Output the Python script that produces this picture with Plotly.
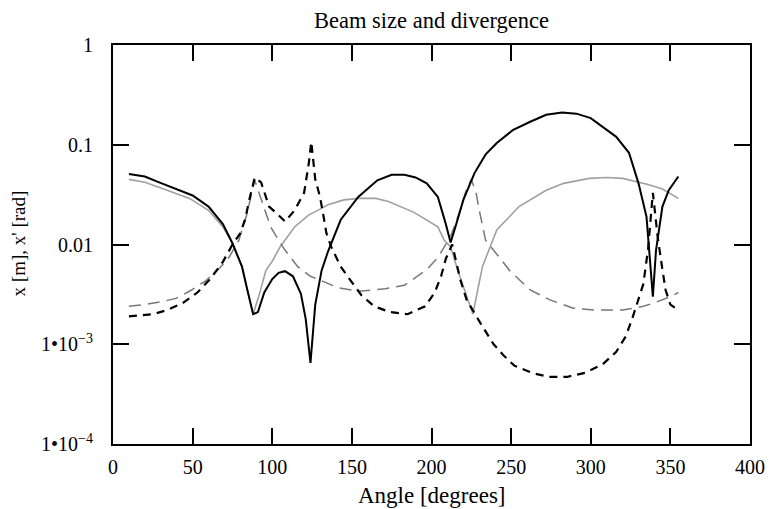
import plotly.graph_objects as go

# Solid black: beam size (x)
sx_ang = [10, 20, 29, 40, 50, 60, 69, 75, 81, 84, 88, 91, 95, 100, 104, 108, 113, 118, 121, 124,
          127, 131, 135, 143, 154, 166, 175, 183, 190, 197, 204, 209, 212, 215, 220, 227, 234, 241,
          251, 262, 272, 282, 291, 300, 308, 316, 324, 330, 335, 337, 339, 341, 345, 349, 355]
sx_val = [0.051, 0.048, 0.042, 0.036, 0.031, 0.024, 0.016, 0.0103, 0.006, 0.0037, 0.002, 0.0021,
          0.0033, 0.0045, 0.0052, 0.0054, 0.0048, 0.0032, 0.0018, 0.00065, 0.0025, 0.0055, 0.0085,
          0.0177, 0.030, 0.044, 0.050, 0.050, 0.047, 0.041, 0.030, 0.016, 0.0105, 0.015, 0.028,
          0.052, 0.080, 0.104, 0.140, 0.170, 0.200, 0.210, 0.205, 0.185, 0.150, 0.120, 0.083,
          0.041, 0.019, 0.0075, 0.003, 0.0088, 0.024, 0.035, 0.048]

# Dashed black: divergence (x')
dx_ang = [10, 25, 34, 44, 53, 61, 69, 75, 80, 83, 86, 89, 93, 96, 98, 105, 108, 114, 120, 123,
          124.5, 127, 130, 132, 134, 137, 143, 149, 156, 164, 174, 185, 196, 202, 206, 209, 213,
          218, 222, 231, 239, 245, 252, 264, 274, 285, 297, 308, 316, 322, 326, 333, 336, 339,
          342, 345, 347, 350, 355]
dx_val = [0.0019, 0.0020, 0.0022, 0.0026, 0.0033, 0.0045, 0.0067, 0.010, 0.013, 0.018, 0.030,
          0.047, 0.042, 0.030, 0.024, 0.019, 0.017, 0.022, 0.033, 0.066, 0.107, 0.045, 0.030,
          0.020, 0.013, 0.0095, 0.006, 0.0044, 0.0031, 0.0024, 0.0021, 0.0020, 0.0024, 0.0033,
          0.0048, 0.0072, 0.010, 0.0045, 0.0028, 0.0016, 0.0010, 0.00078, 0.00061, 0.00051,
          0.00047, 0.00047, 0.00052, 0.00064, 0.00084, 0.0012, 0.0018, 0.004, 0.009, 0.033,
          0.012, 0.0056, 0.0035, 0.0025, 0.0022]

# Gray solid: beam size (y)
sy_ang = [10, 20, 34, 48, 60, 69, 75, 81, 84, 88, 92, 96, 100, 105, 114, 123, 131, 135, 145, 154,
          165, 173, 189, 199, 204, 208, 212, 217, 222, 226, 229, 232, 235, 241, 255, 262, 272, 283,
          299, 310, 320, 336, 345, 355]
sy_val = [0.045, 0.042, 0.035, 0.029, 0.022, 0.015, 0.0103, 0.006, 0.0037, 0.002, 0.0032, 0.0055,
          0.0068, 0.0095, 0.015, 0.0198, 0.023, 0.025, 0.028, 0.029, 0.029, 0.027, 0.021, 0.017,
          0.015, 0.011, 0.0095, 0.0052, 0.003, 0.002, 0.0035, 0.006, 0.008, 0.014, 0.024, 0.028,
          0.035, 0.041, 0.046, 0.047, 0.046, 0.040, 0.036, 0.029]

# Gray dashed: divergence (y')
dy_ang = [10, 20, 32, 40, 48, 58, 67, 73, 79, 84, 89, 94, 99, 104, 108, 116, 124, 133, 141, 154,
          171, 183, 197, 204, 212, 218, 222, 225, 228, 230, 234, 241, 249, 262, 274, 289, 303, 320,
          333, 340, 350, 355]
dy_val = [0.0024, 0.0025, 0.0027, 0.0029, 0.0034, 0.0043, 0.0058, 0.0075, 0.011, 0.020, 0.044,
          0.025, 0.015, 0.011, 0.0088, 0.006, 0.0048, 0.0042, 0.0037, 0.0034, 0.0036, 0.0039,
          0.0056, 0.0074, 0.012, 0.022, 0.036, 0.045, 0.033, 0.022, 0.011, 0.008, 0.0055, 0.0035,
          0.0028, 0.0023, 0.0022, 0.0022, 0.0024, 0.0026, 0.0030, 0.0033]

y_tickvals = [1e-4, 1e-3, 0.01, 0.1, 1]
y_ticktext = ["1\u202210<sup>\u22124</sup>", "1\u202210<sup>\u22123</sup>", "0.01", "0.1", "1"]
x_tickvals = [0, 50, 100, 150, 200, 250, 300, 350, 400]

FONT = "Liberation Serif"

fig = go.Figure()
fig.add_trace(go.Scatter(x=sy_ang, y=sy_val, mode="lines",
                         line=dict(color="rgb(160,160,160)", width=1.6)))
fig.add_trace(go.Scatter(x=dy_ang, y=dy_val, mode="lines",
                         line=dict(color="rgb(120,120,120)", width=1.5, dash="12px,7px")))
fig.add_trace(go.Scatter(x=sx_ang, y=sx_val, mode="lines",
                         line=dict(color="black", width=2)))
fig.add_trace(go.Scatter(x=dx_ang, y=dx_val, mode="lines",
                         line=dict(color="black", width=2.2, dash="8px,6px")))

# page body has an 8px margin, so the figure is made 8px smaller and margins shifted
fig.update_layout(
    width=769, height=501,
    margin=dict(l=105, r=22, t=37, b=65),
    paper_bgcolor="white", plot_bgcolor="white",
    showlegend=False,
    font=dict(family=FONT, color="black", size=20),
    title=dict(text="Beam size and divergence", x=0.5, xref="paper", y=0.976, yref="container",
               xanchor="center", yanchor="middle",
               font=dict(family=FONT, size=22.5, color="black")),
    xaxis=dict(range=[0, 400], tickvals=x_tickvals, ticks="inside", ticklen=16, tickwidth=2,
               tickcolor="black", showline=True, linecolor="black", linewidth=2, mirror="ticks",
               showgrid=False, zeroline=False, ticklabelstandoff=4,
               tickfont=dict(family=FONT, size=20)),
    yaxis=dict(type="log", range=[-4, 0], tickvals=y_tickvals, ticktext=y_ticktext,
               ticks="inside", ticklen=16, tickwidth=2, tickcolor="black", showline=True,
               linecolor="black", linewidth=2, mirror="ticks", showgrid=False, zeroline=False,
               ticklabelstandoff=14, tickfont=dict(family=FONT, size=20)),
    annotations=[
        dict(text="Angle [degrees]", x=0.5, xref="paper", y=-0.130, yref="paper",
             showarrow=False, xanchor="center", yanchor="middle",
             font=dict(family=FONT, size=23)),
        dict(text="x [m], x' [rad]", x=-0.148, xref="paper", y=0.502, yref="paper",
             showarrow=False, textangle=-90, xanchor="center", yanchor="middle",
             font=dict(family=FONT, size=19)),
    ],
)

fig.write_html("out.html")
